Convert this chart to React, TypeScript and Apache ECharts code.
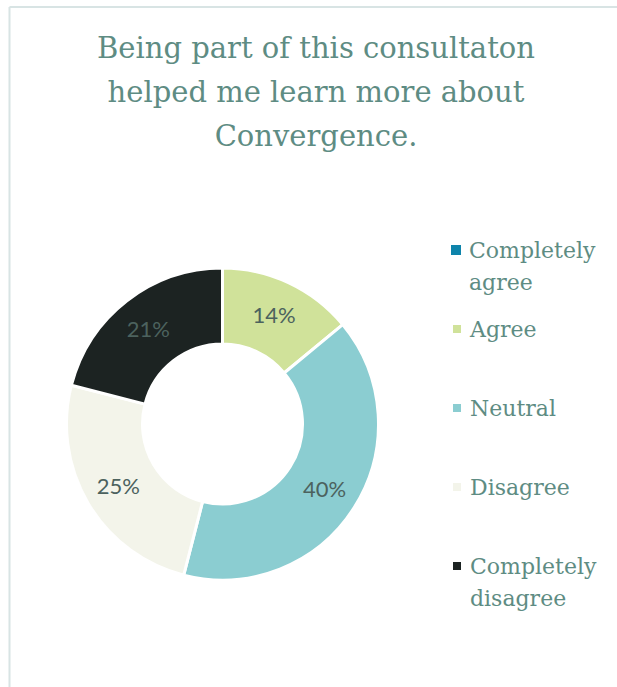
import React, { useEffect, useRef } from "react";
import * as echarts from "echarts";

const titleLines = ["Being part of this consultaton", "helped me learn more about", "Convergence."];
const categories = ["Completely agree", "Agree", "Neutral", "Disagree", "Completely disagree"];
const legendLines = [["Completely", "agree"], ["Agree"], ["Neutral"], ["Disagree"], ["Completely", "disagree"]];
const values = [0, 14, 40, 25, 21];
const colors = ["#0e84ab", "#d0e29a", "#8bcdd1", "#f3f4ea", "#1c2322"];

const SERIF = '"Roboto Slab", "DejaVu Serif", serif';
const TEXT_COLOR = "#5e8c83";

export default function App() {
  const ref = useRef<HTMLDivElement>(null);
  useEffect(() => {
    document.body.style.margin = "0";
    if (!ref.current) return;
    const chart = echarts.init(ref.current, null, { renderer: "svg" });
    const firstCenter = 250;
    const step = 79;
    const lh = 32;
    const legends = categories.map((name, i) => {
      const lines = legendLines[i];
      const multi = lines.length > 1;
      // a blank leading line keeps the icon level with the first text line
      const text = multi ? "\n" + lines.join("\n") : lines[0];
      return {
        show: true,
        orient: "vertical",
        left: 451,
        top: firstCenter + i * step - (multi ? lh * 1.5 : lh / 2),
        padding: 0,
        itemWidth: 10,
        itemHeight: 10,
        icon: "rect",
        selectedMode: false,
        data: [name],
        formatter: () => text,
        textStyle: {
          fontFamily: SERIF,
          fontSize: 22,
          lineHeight: lh,
          color: TEXT_COLOR,
          padding: [0, 0, 0, 3],
        },
      };
    });
    chart.setOption({
      animation: false,
      color: colors,
      legend: legends,
      graphic: [
        { type: "line", shape: { x1: 9.5, y1: 7, x2: 617, y2: 7 }, style: { stroke: "#d8e4e4", lineWidth: 2 } },
        { type: "line", shape: { x1: 9.5, y1: 7, x2: 9.5, y2: 687 }, style: { stroke: "#d8e4e4", lineWidth: 2 } },
        {
          type: "text",
          x: 316,
          y: 26,
          style: {
            text: titleLines.join("\n"),
            textAlign: "center",
            textVerticalAlign: "top",
            fontFamily: SERIF,
            fontSize: 29,
            lineHeight: 44,
            fill: TEXT_COLOR,
          },
        },
      ],
      series: [
        {
          type: "pie",
          center: [222.5, 424],
          radius: [80, 156],
          startAngle: 90,
          clockwise: true,
          avoidLabelOverlap: false,
          itemStyle: { borderColor: "#ffffff", borderWidth: 3 },
          label: {
            show: true,
            position: "inside",
            formatter: (p: any) => (p.value > 0 ? `${p.value}%` : ""),
            fontFamily: "Lato, sans-serif",
            fontSize: 22,
            color: "#4c625e",
          },
          labelLine: { show: false },
          emphasis: { disabled: true },
          data: categories.map((name, i) => ({
            name,
            value: values[i],
            itemStyle: values[i] === 0 ? { borderWidth: 0 } : undefined,
          })),
        },
      ],
    });
    return () => chart.dispose();
  }, []);
  return <div ref={ref} style={{ width: 617, height: 687 }} />;
}
